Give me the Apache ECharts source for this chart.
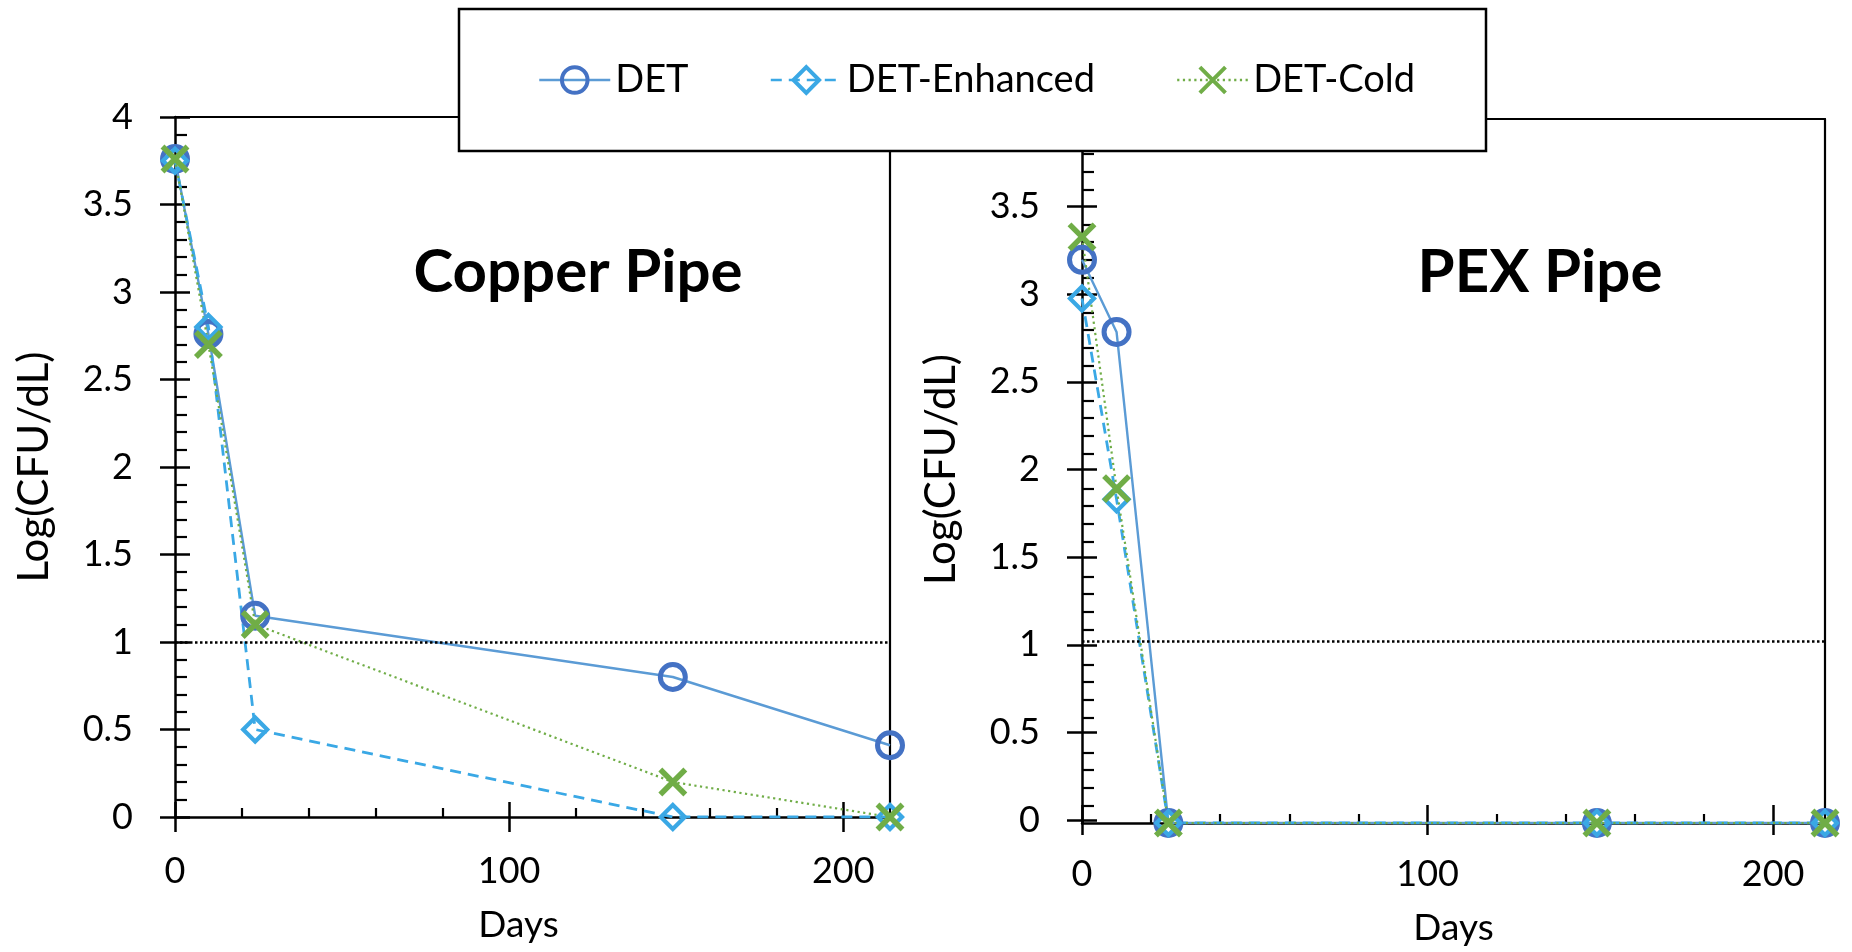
<!DOCTYPE html>
<html>
<head>
<meta charset="utf-8">
<script src="https://cdn.jsdelivr.net/npm/echarts@6/dist/echarts.min.js"></script>
<style>
  html, body { margin: 0; padding: 0; background: #fff; }
  #chart { width: 1852px; height: 952px; }
</style>
</head>
<body>
<div id="chart"></div>
<script>
// Survival of bacteria over time in copper and PEX pipes
const seriesNames = ['DET', 'DET-Enhanced', 'DET-Cold'];
const panelTitles = ['Copper Pipe', 'PEX Pipe'];

const copperDays = [0, 10, 24, 149, 214];
const copperDET = [3.76, 2.76, 1.15, 0.80, 0.41];
const copperEnhanced = [3.75, 2.80, 0.50, 0, 0];
const copperCold = [3.76, 2.70, 1.10, 0.20, 0];

const pexDays = [0, 10, 25, 149, 215];
const pexDET = [3.20, 2.79, 0, 0, 0];
const pexEnhanced = [2.98, 1.84, 0, 0, 0];
const pexCold = [3.33, 1.90, 0, 0, 0];

// horizontal dotted reference level in each panel
const copperLimit = 1.0;
const pexLimit = 1.03;

const xTickLabels = [0, 100, 200];
const xMinorTicks = [20, 40, 60, 80, 120, 140, 160, 180];

const FONT = 'Lato';
const BLACK = '#000';

const colors = {
  det: { line: '#5B9BD5', mark: '#4472C4' },
  enh: { line: '#3AA8E5', mark: '#3AA8E5' },
  cold: { line: '#70AD47', mark: '#70AD47' }
};

const X_SYMBOL = 'path://M0,0L20,20M20,0L0,20';

// panel rectangles (pixels)
const panels = [
  { left: 175, top: 117, width: 715, height: 700, xMax: 214 },
  { left: 1082, top: 119, width: 743, height: 704, xMax: 215 }
];

const grids = [];
panels.forEach(p => grids.push({ left: p.left, top: p.top, width: p.width, height: p.height, containLabel: false }));
panels.forEach(p => grids.push({ left: p.left, top: p.top, width: p.width, height: p.height, containLabel: false }));

const xAxes = [];
const yAxes = [];

// data axes: axis lines with minor ticks inside
panels.forEach((p, i) => {
  xAxes.push({
    gridIndex: i, type: 'value', min: 0, max: p.xMax, interval: 100, position: 'bottom',
    axisLine: { show: true, onZero: false, lineStyle: { color: BLACK, width: 2.5 } },
    axisTick: { show: true, inside: true, length: 9, customValues: xMinorTicks, lineStyle: { color: BLACK, width: 2.2 } },
    axisLabel: { show: false },
    splitLine: { show: false }
  });
  yAxes.push({
    gridIndex: i, type: 'value', min: 0, max: 4, interval: 0.5, position: 'left',
    axisLine: { show: true, onZero: false, lineStyle: { color: BLACK, width: 2.5 } },
    axisTick: { show: false, inside: true },
    minorTick: { show: true, splitNumber: 5, length: 12, lineStyle: { color: BLACK, width: 2.2 } },
    axisLabel: { show: false },
    splitLine: { show: false },
    minorSplitLine: { show: false }
  });
});

// overlay axes: crossing major ticks, labels, names
panels.forEach((p, i) => {
  xAxes.push({
    gridIndex: i + 2, type: 'value', min: 0, max: p.xMax, interval: 100, position: 'bottom', offset: -15,
    axisLine: { show: false, onZero: false },
    axisTick: { show: true, inside: false, length: 30, customValues: xTickLabels, lineStyle: { color: BLACK, width: 2.5 } },
    axisLabel: { show: true, customValues: xTickLabels, margin: 51, fontSize: 36, fontFamily: FONT, color: BLACK },
    splitLine: { show: false },
    name: 'Days', nameLocation: 'middle', nameGap: 105,
    nameTextStyle: { fontSize: 37, fontFamily: FONT, color: BLACK, padding: i === 0 ? [0, 28, 0, 0] : 0 }
  });
  yAxes.push({
    gridIndex: i + 2, type: 'value', min: 0, max: 4, interval: 0.5, position: 'left', offset: -15,
    axisLine: { show: false, onZero: false },
    axisTick: { show: true, inside: false, length: 30, lineStyle: { color: BLACK, width: 2.5 } },
    axisLabel: { show: true, margin: 57, fontSize: 36, fontFamily: FONT, color: BLACK },
    splitLine: { show: false },
    name: 'Log(CFU/dL)', nameLocation: 'middle', nameGap: 135,
    nameTextStyle: { fontSize: 42, fontFamily: FONT, color: BLACK }
  });
});

// frame: top and right edges
panels.forEach((p, i) => {
  xAxes.push({
    gridIndex: i + 2, type: 'value', min: 0, max: p.xMax, position: 'top',
    axisLine: { show: true, onZero: false, lineStyle: { color: BLACK, width: 2.2 } },
    axisTick: { show: false }, axisLabel: { show: false }, splitLine: { show: false }
  });
  yAxes.push({
    gridIndex: i + 2, type: 'value', min: 0, max: 4, position: 'right',
    axisLine: { show: true, onZero: false, lineStyle: { color: BLACK, width: 2.2 } },
    axisTick: { show: false }, axisLabel: { show: false }, splitLine: { show: false }
  });
});

function zip(xs, ys) { return xs.map((x, k) => [x, ys[k]]); }

function limitLine(value) {
  return {
    silent: true, symbol: ['none', 'none'], animation: false,
    label: { show: false },
    lineStyle: { color: BLACK, type: [2.5, 2.5], width: 2.5 },
    data: [{ yAxis: value }]
  };
}

function makeSeries(gridIdx, days, det, enh, cold, limit) {
  return [
    {
      name: seriesNames[0], type: 'line', xAxisIndex: gridIdx, yAxisIndex: gridIdx,
      data: zip(days, det), symbol: 'circle', symbolSize: 25,
      lineStyle: { color: colors.det.line, width: 2.4, type: 'solid' },
      itemStyle: { color: 'rgba(0,0,0,0)', borderColor: colors.det.mark, borderWidth: 5 },
      markLine: limitLine(limit)
    },
    {
      name: seriesNames[1], type: 'line', xAxisIndex: gridIdx, yAxisIndex: gridIdx,
      data: zip(days, enh), symbol: 'diamond', symbolSize: 24,
      lineStyle: { color: colors.enh.line, width: 2.8, type: [11, 7] },
      itemStyle: { color: 'rgba(0,0,0,0)', borderColor: colors.enh.mark, borderWidth: 4.2 }
    },
    {
      name: seriesNames[2], type: 'line', xAxisIndex: gridIdx, yAxisIndex: gridIdx,
      data: zip(days, cold), symbol: X_SYMBOL, symbolSize: 25,
      lineStyle: { color: colors.cold.line, width: 2.2, type: [2.2, 3.5] },
      itemStyle: { color: 'rgba(0,0,0,0)', borderColor: colors.cold.mark, borderWidth: 5.5 }
    }
  ];
}

const chart = echarts.init(document.getElementById('chart'), null, { renderer: 'canvas' });

chart.setOption({
  animation: false,
  backgroundColor: '#fff',
  textStyle: { fontFamily: FONT },
  title: [
    { text: panelTitles[0], left: 573, top: 238, textAlign: 'center',
      textStyle: { fontFamily: FONT, fontWeight: 'bold', fontSize: 60, color: BLACK } },
    { text: panelTitles[1], left: 1535, top: 238, textAlign: 'center',
      textStyle: { fontFamily: FONT, fontWeight: 'bold', fontSize: 60, color: BLACK } }
  ],
  legend: {
    z: 200,
    left: 538, top: 61, padding: 0,
    itemWidth: 71, itemHeight: 32, itemGap: 81,
    data: seriesNames,
    textStyle: { fontFamily: FONT, fontSize: 38, color: BLACK },
    itemStyle: { borderWidth: 4 },
    lineStyle: { width: 2.5 }
  },
  graphic: {
    elements: [{
      type: 'rect', z: 100,
      shape: { x: 459, y: 9, width: 1027, height: 142 },
      style: { fill: '#fff', stroke: BLACK, lineWidth: 2.5 }
    }]
  },
  grid: grids,
  xAxis: xAxes,
  yAxis: yAxes,
  series: [
    ...makeSeries(0, copperDays, copperDET, copperEnhanced, copperCold, copperLimit),
    ...makeSeries(1, pexDays, pexDET, pexEnhanced, pexCold, pexLimit)
  ]
});
</script>
</body>
</html>
